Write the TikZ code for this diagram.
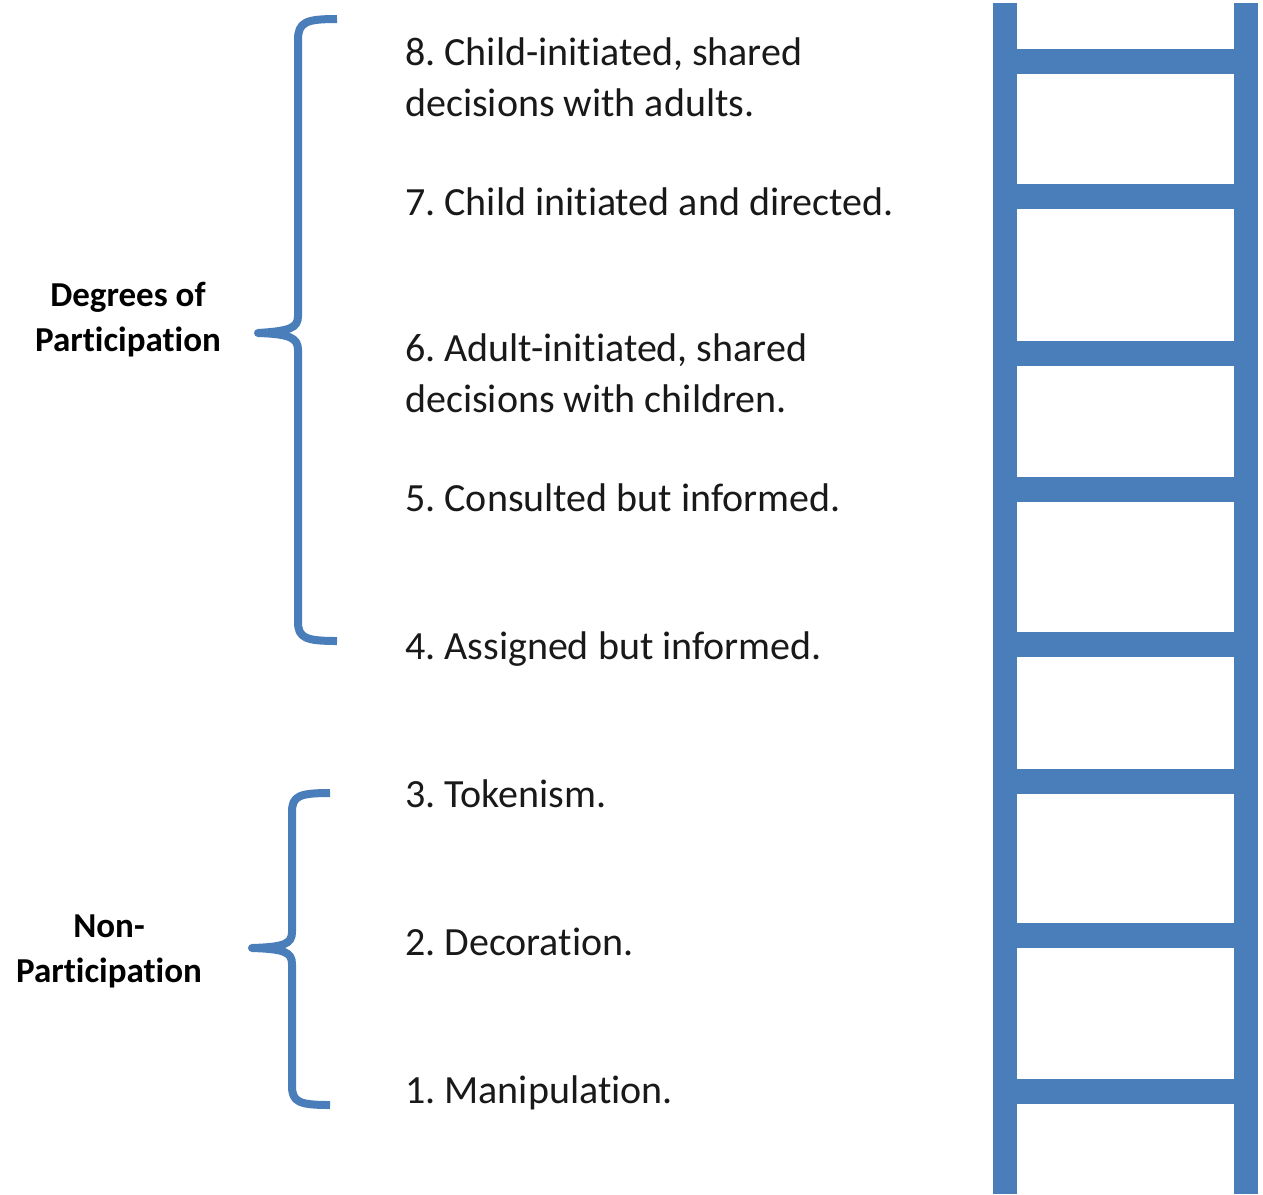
\documentclass[tikz,border=0pt]{standalone}
\usepackage{fontspec}
\setmainfont{Carlito}[Ligatures=NoCommon]
\frenchspacing
\definecolor{ladderblue}{RGB}{74,126,187}
\begin{document}
\begin{tikzpicture}[x=1pt,y=-1pt,
  step text/.style={anchor=base west,inner sep=0pt,align=left,
    font=\fontsize{40}{51}\selectfont,text=black!90},
  group label/.style={anchor=base,inner sep=0pt,align=center,
    font=\bfseries\fontsize{35}{45}\selectfont,text=black},
  brace line/.style={draw=ladderblue,line width=8pt,line join=round},
  rail/.style={fill=ladderblue},
]
\useasboundingbox[fill=white] (0,0) rectangle (1263,1194);

% ladder rails
\fill[rail] (993,3) rectangle (1017,1194);
\fill[rail] (1234,3) rectangle (1258,1194);
% ladder rungs
\foreach \y in {61.5,196.5,353,489,644,781,935,1091}
  \fill[rail] (1017,\y-12.5) rectangle (1234,\y+12.5);

% brace for degrees of participation
\draw[brace line] (337,19) .. controls (306,19) and (298,22) .. (298,40)
  -- (298,316) .. controls (298,328) and (290,331) .. (258,333);
\draw[brace line,line cap=round] (258,333) -- (262,333);
\draw[brace line] (258,333) .. controls (290,334) and (298,338) .. (298,350)
  -- (298,622) .. controls (298,638) and (306,641) .. (337,641);

% brace for non-participation
\draw[brace line] (330,793) .. controls (299,793) and (292,796) .. (292,812)
  -- (292,932) .. controls (292,944) and (284,947) .. (252,948);
\draw[brace line,line cap=round] (252,948) -- (256,948);
\draw[brace line] (252,948) .. controls (284,949) and (292,952) .. (292,964)
  -- (292,1086) .. controls (292,1102) and (299,1105) .. (330,1105);

% group labels (anchored at the baseline of their last line)
\node[group label] (degrees) at (128,351) {Degrees of\\Participation};
\node[group label] (nonpart) at (109,982) {Non-\\Participation};

% rungs of participation
\node[step text] (s8) at (405,116) {8. Child-initiated, shared\\decisions with adults.};
\node[step text] (s7) at (405,215) {7. Child initiated and directed.};
\node[step text] (s6) at (405,412) {6. Adult-initiated, shared\\decisions with children.};
\node[step text] (s5) at (405,511) {5. Consulted but informed.};
\node[step text] (s4) at (405,659) {4. Assigned but informed.};
\node[step text] (s3) at (405,807) {3. Tokenism.};
\node[step text] (s2) at (405,955) {2. Decoration.};
\node[step text] (s1) at (405,1103) {1. Manipulation.};
\end{tikzpicture}
\end{document}
